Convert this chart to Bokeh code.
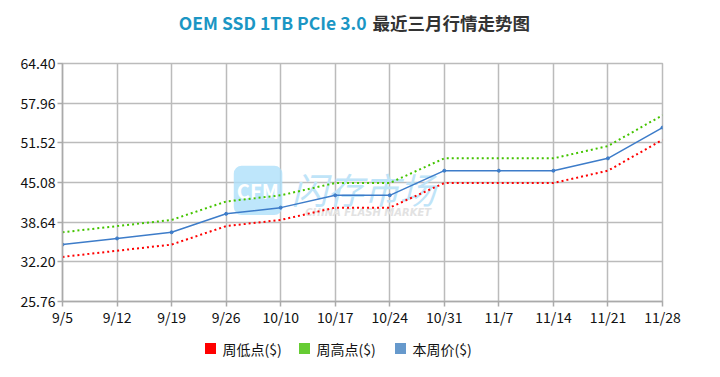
from bokeh.plotting import figure
from bokeh.layouts import column
from bokeh.models import (Range1d, FixedTicker, PrintfTickFormatter, Label, BoxAnnotation)
from bokeh.core.properties import value
from bokeh.embed import file_html
from bokeh.resources import INLINE

categories = ["9/5", "9/12", "9/19", "9/26", "10/10", "10/17", "10/24",
              "10/31", "11/7", "11/14", "11/21", "11/28"]
low_vals = [33, 34, 35, 38, 39, 41, 41, 45, 45, 45, 47, 52]
high_vals = [37, 38, 39, 42, 43, 45, 45, 49, 49, 49, 51, 56]
price_vals = [35, 36, 37, 40, 41, 43, 43, 47, 47, 47, 49, 54]
y_ticks = [25.76, 32.20, 38.64, 45.08, 51.52, 57.96, 64.40]
series_names = ["周低点($)", "周高点($)", "本周价($)"]
series_colors = ["#ff0000", "#66cc33", "#6699cc"]
title_en = "OEM SSD 1TB PCIe 3.0"
title_cn = "最近三月行情走势图"

FONT = "Noto Sans CJK SC"
W = 704
BL, BR = 62, 42  # frame borders (shared by all rows of the column)
xs = list(range(len(categories)))


def blank_fig(h):
    f = figure(width=W, height=h, output_backend="svg", toolbar_location=None,
               x_range=Range1d(BL, W - BR), y_range=Range1d(0, h),
               min_border_left=BL, min_border_right=BR,
               min_border_top=0, min_border_bottom=0)
    f.axis.visible = False
    f.grid.visible = False
    f.outline_line_color = None
    f.background_fill_color = "white"
    f.border_fill_color = "white"
    return f


# ---- title strip ----
TH = 45
t = blank_fig(TH)
t.text(x=[366], y=[TH - 22], text=[title_en], text_color="#1b96c4",
       text_font=value(FONT), text_font_size="17.5px", text_font_style="bold",
       text_align="right", text_baseline="middle")
t.text(x=[372], y=[TH - 22], text=[title_cn], text_color="#333333",
       text_font=value(FONT), text_font_size="17.5px", text_font_style="bold",
       text_align="left", text_baseline="middle")

# ---- main chart ----
p = figure(width=W, height=286, output_backend="svg", toolbar_location=None,
           x_range=Range1d(0, len(categories) - 1), y_range=Range1d(y_ticks[0], y_ticks[-1]),
           min_border_left=BL, min_border_right=BR, min_border_top=18, min_border_bottom=30)
p.background_fill_color = "white"
p.border_fill_color = "white"
p.outline_line_color = "#bbbbbb"
p.outline_line_width = 1.5

p.xaxis.ticker = FixedTicker(ticks=xs)
p.xaxis.major_label_overrides = {i: c for i, c in enumerate(categories)}
p.yaxis.ticker = FixedTicker(ticks=y_ticks)
p.yaxis.formatter = PrintfTickFormatter(format="%.2f")
for ax in (p.xaxis, p.yaxis):
    ax.axis_line_color = "#aaaaaa"
    ax.axis_line_width = 1.5
    ax.major_tick_line_color = "#aaaaaa"
    ax.major_tick_line_width = 1.5
    ax.major_tick_out = 5
    ax.major_tick_in = 0
    ax.minor_tick_line_color = None
    ax.major_label_text_font = FONT
    ax.major_label_text_font_size = "14px"
    ax.major_label_text_color = "#111111"
p.xaxis.major_label_standoff = 0
p.yaxis.major_label_standoff = 2
p.xgrid.ticker = FixedTicker(ticks=xs)
p.ygrid.ticker = FixedTicker(ticks=y_ticks)
for g in (p.xgrid, p.ygrid):
    g.grid_line_color = "#bbbbbb"
    g.grid_line_width = 1.5

# watermark (decoration)
wm_box = BoxAnnotation(left=3.14, right=4.03, bottom=39.8, top=47.8,
                       fill_color="#aee0fa", fill_alpha=0.8, line_color=None,
                       border_radius=8, level="underlay")
p.add_layout(wm_box)
p.add_layout(Label(x=3.58, y=43.8, text="CFM", text_color="white", text_font=FONT,
                   text_font_size="20px", text_font_style="bold", text_align="center",
                   text_baseline="middle", level="underlay"))
p.add_layout(Label(x=4.2, y=44.2, text="闪存市场", text_color="#bfe4f8", text_font=FONT,
                   text_font_size="36px", text_font_style="italic", text_baseline="middle",
                   level="underlay"))
p.add_layout(Label(x=4.45, y=40.2, text="CHINA FLASH MARKET", text_color="#e2e2e2",
                   text_font="DejaVu Sans", text_font_size="10px", text_font_style="bold italic",
                   text_baseline="middle", level="underlay"))

p.line(xs, low_vals, line_color="#ff0000", line_width=2, line_dash="2 3")
p.line(xs, high_vals, line_color="#44c400", line_width=2, line_dash="2 3")
p.line(xs, price_vals, line_color="#3d7cc9", line_width=1.5)
p.scatter(xs, price_vals, size=3, color="#3d7cc9")

# ---- legend strip ----
LH = 30
lg = blank_fig(LH)
leg_x = [205, 299, 395]
ly = LH - 17
lg.scatter(x=[lx + 5 for lx in leg_x], y=[ly] * 3, marker="square", size=11,
           color=series_colors, line_color=None)
lg.text(x=[lx + 17 for lx in leg_x], y=[ly] * 3, text=series_names, text_color="#111111",
        text_font=value(FONT), text_font_size="14px", text_align="left",
        text_baseline="middle")

layout = column(t, p, lg, spacing=0)
open("out.html", "w").write(file_html(layout, INLINE))
